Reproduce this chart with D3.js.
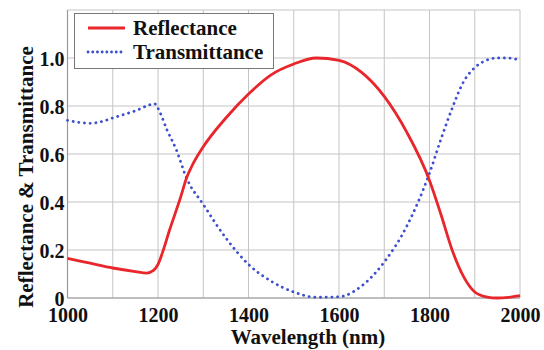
<!DOCTYPE html>
<html>
<head>
<meta charset="utf-8">
<script src="https://cdn.jsdelivr.net/npm/d3@7"></script>
<style>
  body { margin: 0; background: #fff; }
  text { font-family: "Liberation Serif", "Times New Roman", serif; font-weight: bold; fill: #111; }
</style>
</head>
<body>
<svg width="544" height="350"></svg>
<script>
// reflectance (red, solid)
const reflWl = [1000, 1050, 1100, 1150, 1175, 1190, 1200, 1210, 1225, 1250, 1263, 1275, 1300, 1350, 1400, 1450, 1500, 1550, 1600, 1650, 1700, 1750, 1800, 1825, 1850, 1875, 1900, 1925, 1950, 1975, 2000];
const reflVal = [0.165, 0.145, 0.125, 0.11, 0.104, 0.115, 0.14, 0.19, 0.28, 0.42, 0.5, 0.55, 0.63, 0.75, 0.85, 0.93, 0.975, 1.0, 0.99, 0.94, 0.84, 0.69, 0.49, 0.35, 0.2, 0.09, 0.025, 0.005, 0.0, 0.003, 0.01];

// transmittance (blue, dotted)
const transWl = [1000, 1025, 1050, 1075, 1100, 1125, 1150, 1175, 1192, 1200, 1220, 1240, 1263, 1300, 1350, 1400, 1450, 1500, 1550, 1600, 1650, 1700, 1750, 1800, 1825, 1850, 1875, 1900, 1925, 1950, 1975, 2000];
const transVal = [0.74, 0.732, 0.728, 0.735, 0.75, 0.765, 0.78, 0.8, 0.81, 0.79, 0.7, 0.62, 0.5, 0.39, 0.25, 0.14, 0.07, 0.025, 0.003, 0.005, 0.05, 0.15, 0.3, 0.52, 0.66, 0.79, 0.9, 0.96, 0.99, 1.0, 1.0, 0.99];

const xTicks = [1000, 1200, 1400, 1600, 1800, 2000];
const yTicks = [0, 0.2, 0.4, 0.6, 0.8, 1.0];

const svg = d3.select("svg");
const m = { left: 67.5, right: 24, top: 10, bottom: 52 };
const W = 544, H = 350;
const fs = "21px";
const tickFs = "20px";

const x = d3.scaleLinear().domain([1000, 2000]).range([m.left, W - m.right]);
const y = d3.scaleLinear().domain([0, 1.2]).range([H - m.bottom, m.top]);

const g = svg.append("g");

// grid
g.selectAll("line.vg")
  .data(d3.range(1000, 2001, 100))
  .enter().append("line")
  .attr("x1", d => x(d)).attr("x2", d => x(d))
  .attr("y1", y(0)).attr("y2", y(1.2))
  .style("stroke", "#c4c4c4").style("stroke-width", 1);

g.selectAll("line.hg")
  .data(d3.range(0, 1.21, 0.2))
  .enter().append("line")
  .attr("x1", x(1000)).attr("x2", x(2000))
  .attr("y1", d => y(d)).attr("y2", d => y(d))
  .style("stroke", "#c4c4c4").style("stroke-width", 1);

// axis lines (left/bottom darker)
g.append("line")
  .attr("x1", x(1000)).attr("x2", x(1000)).attr("y1", y(0)).attr("y2", y(1.2))
  .style("stroke", "#999").style("stroke-width", 1.2);
g.append("line")
  .attr("x1", x(1000)).attr("x2", x(2000)).attr("y1", y(0)).attr("y2", y(0))
  .style("stroke", "#999").style("stroke-width", 1.2);

// ticks
const xAxis = d3.axisBottom(x).tickValues(xTicks).tickSize(0).tickFormat(d3.format("d"));
const yAxis = d3.axisLeft(y).tickValues(yTicks).tickSize(0).tickPadding(3)
  .tickFormat(d => d === 0 ? "0" : d3.format(".1f")(d));

const gx = svg.append("g").attr("transform", `translate(0,${y(0)})`).call(xAxis);
gx.select(".domain").remove();
gx.selectAll("text").style("font-size", tickFs).style("font-family", "Liberation Serif").style("font-weight", "bold")
  .attr("y", 23.5).attr("dy", 0);

const gy = svg.append("g").attr("transform", `translate(${x(1000)},0)`).call(yAxis);
gy.select(".domain").remove();
gy.selectAll("text").style("font-size", tickFs).style("font-family", "Liberation Serif").style("font-weight", "bold")
  .attr("dy", "0.38em");

// lines
const line = d3.line().curve(d3.curveMonotoneX);

g.append("path")
  .datum(transWl.map((d, i) => [x(d), y(transVal[i])]))
  .attr("d", line)
  .style("fill", "none")
  .style("stroke", "#3b4fd0")
  .style("stroke-width", 2.8)
  .style("stroke-linecap", "round")
  .style("stroke-dasharray", "0.1 5.6");

g.append("path")
  .datum(reflWl.map((d, i) => [x(d), y(reflVal[i])]))
  .attr("d", line)
  .style("fill", "none")
  .style("stroke", "#e8262b")
  .style("stroke-width", 2.8);

// legend
const lg = svg.append("g");
lg.append("rect")
  .attr("x", 74.5).attr("y", 13.5).attr("width", 199).attr("height", 55)
  .style("fill", "#fff").style("stroke", "#777").style("stroke-width", 1);
lg.append("line").attr("x1", 88).attr("x2", 125).attr("y1", 28).attr("y2", 28)
  .style("stroke", "#e8262b").style("stroke-width", 2.8);
lg.append("line").attr("x1", 88).attr("x2", 125).attr("y1", 52).attr("y2", 52)
  .style("stroke", "#3b4fd0").style("stroke-width", 2.8)
  .style("stroke-linecap", "round").style("stroke-dasharray", "0.1 4.6");
lg.append("text").attr("x", 133).attr("y", 35).style("font-size", fs).text("Reflectance");
lg.append("text").attr("x", 133).attr("y", 59).style("font-size", fs).text("Transmittance");

// axis titles
svg.append("text")
  .attr("x", 308).attr("y", 344)
  .attr("text-anchor", "middle").style("font-size", fs)
  .text("Wavelength (nm)");

svg.append("text")
  .attr("transform", `translate(33,177) rotate(-90)`)
  .attr("text-anchor", "middle").style("font-size", fs)
  .text("Reflectance & Transmittance");
</script>
</body>
</html>
